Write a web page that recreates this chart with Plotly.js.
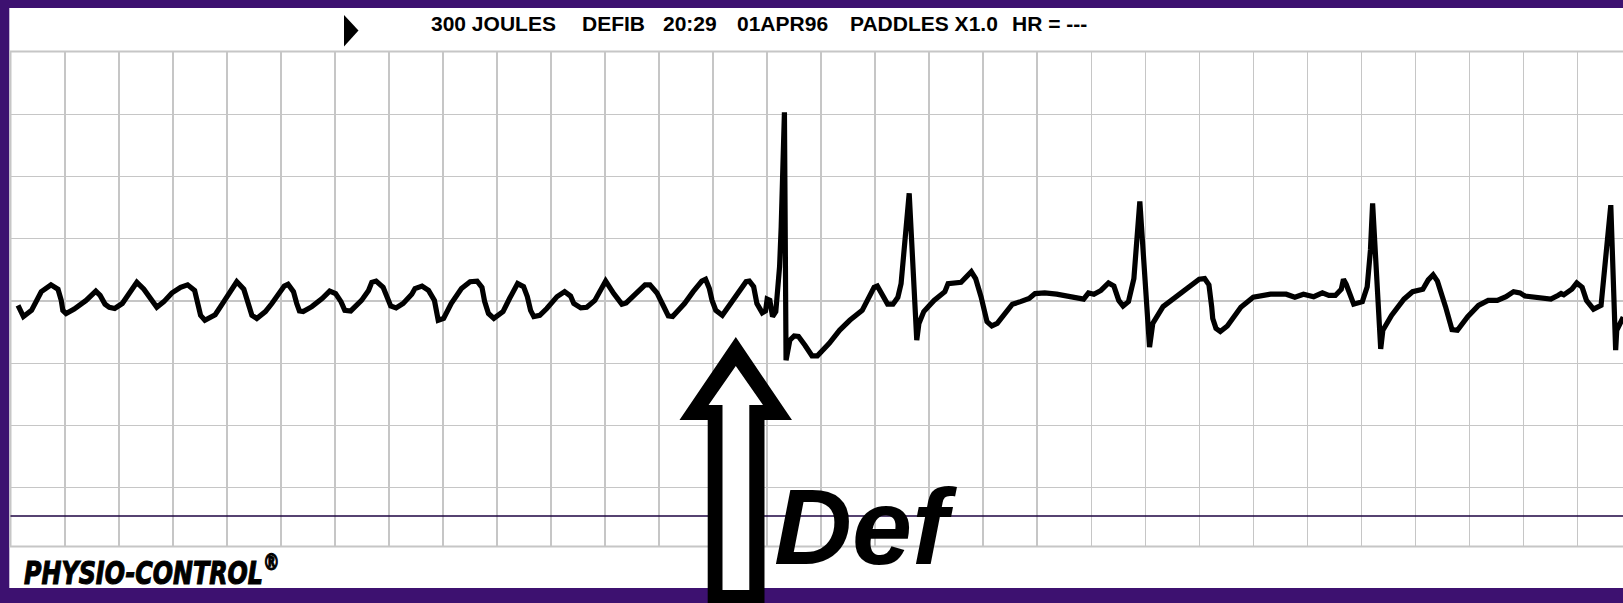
<!DOCTYPE html>
<html>
<head>
<meta charset="utf-8">
<script src="https://cdn.plot.ly/plotly-3.0.1.min.js"></script>
<style>
  html, body { margin: 0; padding: 0; background: #3d1170; }
  #strip { width: 1623px; height: 603px; }
</style>
</head>
<body>
<div id="strip"></div>
<script>
// ECG strip. Units are big grid boxes:
// t = boxes from the left edge of the grid, v = boxes above the baseline gridline
const t = [0.13, 0.23, 0.38, 0.56, 0.74, 0.87, 0.93, 0.96, 1.02, 1.17, 1.39, 1.57, 1.65, 1.74, 1.82, 1.92,
    2.06, 2.21, 2.33, 2.46, 2.60, 2.70, 2.83, 2.98, 3.14, 3.27, 3.40, 3.46, 3.51, 3.59, 3.78, 3.94,
    4.08, 4.18, 4.31, 4.39, 4.46, 4.55, 4.71, 4.83, 4.97, 5.06, 5.13, 5.23, 5.29, 5.34, 5.41, 5.57,
    5.76, 5.90, 6.01, 6.11, 6.18, 6.29, 6.49, 6.62, 6.68, 6.76, 6.89, 6.97, 7.03, 7.13, 7.26, 7.42,
    7.48, 7.61, 7.73, 7.84, 7.88, 7.91, 8.01, 8.15, 8.34, 8.50, 8.63, 8.72, 8.77, 8.84, 8.94, 9.11,
    9.23, 9.38, 9.49, 9.56, 9.62, 9.68, 9.79, 9.92, 10.11, 10.25, 10.36, 10.42, 10.55, 10.66, 10.81, 10.93,
    11.01, 11.16, 11.31, 11.39, 11.58, 11.74, 11.83, 11.96, 12.08, 12.17, 12.25, 12.47, 12.63, 12.79, 12.86, 12.93,
    12.98, 13.05, 13.17, 13.35, 13.48, 13.61, 13.67, 13.75, 13.81, 13.91, 13.97, 14.00, 14.05, 14.10, 14.16, 14.19,
    14.23, 14.26, 14.32, 14.35, 14.42, 14.50, 14.58, 14.70, 14.83, 14.93, 15.15, 15.34, 15.53, 15.76, 15.88, 15.98,
    16.04, 16.14, 16.23, 16.33, 16.42, 16.48, 16.54, 16.63, 16.77, 16.81, 16.90, 17.09, 17.29, 17.35, 17.59, 17.78,
    17.86, 17.96, 18.07, 18.16, 18.26, 18.40, 18.54, 18.69, 18.85, 18.96, 19.14, 19.36, 19.79, 19.86, 19.95, 20.05,
    20.18, 20.32, 20.42, 20.51, 20.59, 20.69, 20.79, 20.85, 20.90, 21.08, 21.14, 21.33, 21.52, 21.78, 22.00, 22.10,
    22.18, 22.23, 22.25, 22.31, 22.39, 22.52, 22.77, 23.00, 23.32, 23.61, 23.77, 23.93, 24.12, 24.28, 24.40, 24.52,
    24.63, 24.67, 24.72, 24.86, 25.02, 25.11, 25.17, 25.21, 25.36, 25.40, 25.56, 25.79, 25.95, 26.14, 26.24, 26.33,
    26.41, 26.56, 26.68, 26.78, 26.97, 27.17, 27.35, 27.52, 27.68, 27.82, 27.94, 28.03, 28.32, 28.51, 28.64, 28.70,
    28.75, 28.90, 28.99, 29.09, 29.17, 29.30, 29.44, 29.49, 29.57, 29.62, 29.71, 29.73, 29.85];

const v = [-0.07, -0.25, -0.15, 0.15, 0.26, 0.19, 0.01, -0.15, -0.20, -0.13, 0.01, 0.16, 0.09, -0.05, -0.10, -0.12,
    -0.04, 0.15, 0.30, 0.19, 0.01, -0.10, -0.01, 0.13, 0.22, 0.26, 0.17, -0.01, -0.23, -0.31, -0.22, -0.01,
    0.19, 0.31, 0.19, -0.04, -0.23, -0.28, -0.17, -0.04, 0.15, 0.24, 0.27, 0.15, -0.04, -0.16, -0.17, -0.09,
    0.04, 0.16, 0.12, -0.01, -0.15, -0.16, 0.01, 0.17, 0.30, 0.32, 0.22, 0.04, -0.08, -0.11, -0.04, 0.11,
    0.20, 0.24, 0.17, 0.01, -0.15, -0.31, -0.28, -0.04, 0.20, 0.31, 0.32, 0.22, -0.01, -0.20, -0.28, -0.17,
    0.04, 0.28, 0.23, 0.07, -0.15, -0.25, -0.23, -0.12, 0.07, 0.15, 0.08, -0.04, -0.11, -0.10, 0.01, 0.22,
    0.32, 0.12, -0.05, -0.03, 0.12, 0.26, 0.26, 0.13, -0.08, -0.24, -0.25, -0.04, 0.15, 0.32, 0.35, 0.20,
    0.01, -0.15, -0.23, -0.01, 0.17, 0.31, 0.32, 0.23, -0.04, -0.19, -0.16, 0.03, 0.01, -0.25, -0.17, 0.07,
    0.55, 1.19, 3.03, -0.95, -0.63, -0.56, -0.57, -0.71, -0.88, -0.88, -0.68, -0.47, -0.31, -0.15, 0.04, 0.22,
    0.24, 0.09, -0.05, -0.05, 0.06, 0.28, 0.87, 1.73, -0.63, -0.36, -0.17, 0.01, 0.15, 0.28, 0.30, 0.47,
    0.36, 0.07, -0.33, -0.40, -0.36, -0.20, -0.05, -0.01, 0.04, 0.12, 0.13, 0.11, 0.03, 0.03, 0.13, 0.11,
    0.17, 0.29, 0.24, 0.01, -0.08, -0.01, 0.36, 0.98, 1.60, -0.74, -0.36, -0.09, 0.04, 0.20, 0.35, 0.36,
    0.26, -0.09, -0.28, -0.44, -0.49, -0.40, -0.10, 0.06, 0.11, 0.11, 0.06, 0.11, 0.07, 0.13, 0.09, 0.09,
    0.19, 0.35, 0.27, -0.05, -0.01, 0.23, 0.82, 1.57, -0.77, -0.47, -0.23, 0.03, 0.15, 0.19, 0.34, 0.42,
    0.32, -0.09, -0.46, -0.47, -0.25, -0.07, 0.01, 0.01, 0.07, 0.15, 0.13, 0.08, 0.06, 0.03, 0.09, 0.12,
    0.10, 0.19, 0.29, 0.22, 0.01, -0.13, -0.07, 0.36, 1.03, 1.54, -0.79, -0.47, -0.26];

const headerText = ['300 JOULES', 'DEFIB', '20:29', '01APR96', 'PADDLES X1.0', 'HR = ---'];
const logoText = 'PHYSIO-CONTROL<sup>®</sup>';
const markText = 'Def';

// figure geometry (pixels) -> paper coords of the plot area (the grid)
const L = 11, T = 52, W = 1612, H = 494;
function px(x) { return (x - L) / W; }
function py(y) { return (T + H - y) / H; }
function path(pts) {
    return 'M ' + pts.map(p => px(p[0]).toFixed(5) + ',' + py(p[1]).toFixed(5)).join(' L ') + ' Z';
}

const headerLeft = [428.5, 579.5, 660.5, 734.5, 847.5, 1010];
const headerFont = {family: 'Liberation Sans, Arial, sans-serif', size: 21, weight: 'bold', color: '#000'};

let annotations = headerText.map((s, i) => ({
    xref: 'paper', yref: 'paper', x: px(headerLeft[i]), y: py(23),
    xanchor: 'left', yanchor: 'middle', showarrow: false, text: s, font: headerFont
}));

// logo: heavy condensed face, squeezed a bit more below
annotations.push({
    xref: 'paper', yref: 'paper', x: px(22), y: py(570.5), xanchor: 'left', yanchor: 'middle',
    showarrow: false, text: logoText,
    font: {family: 'DejaVu Sans Condensed, DejaVu Sans, sans-serif', size: 32.5,
           weight: 'bold', style: 'italic', color: '#000'}
});

annotations.push({
    xref: 'paper', yref: 'paper', x: px(772), y: py(526.5), xanchor: 'left', yanchor: 'middle',
    showarrow: false, text: markText,
    font: {family: 'Liberation Sans, Arial, sans-serif', size: 108, weight: 'bold', style: 'italic', color: '#000'}
});

const gridGray = '#c6c6c6';

const shapes = [
    // white paper of the strip
    {type: 'rect', layer: 'below', xref: 'paper', yref: 'paper', x0: px(9.3), x1: px(1623), y0: py(588), y1: py(8),
     fillcolor: '#ffffff', line: {width: 0}},
    // header / footer rules and left edge of the grid
    {type: 'line', xref: 'paper', yref: 'paper', x0: px(9.3), x1: px(1623), y0: py(51.5), y1: py(51.5),
     line: {color: gridGray, width: 2}},
    {type: 'line', xref: 'paper', yref: 'paper', x0: px(9.3), x1: px(1623), y0: py(546.5), y1: py(546.5),
     line: {color: gridGray, width: 2}},
    {type: 'line', xref: 'paper', yref: 'paper', x0: px(10.5), x1: px(10.5), y0: py(51.5), y1: py(546.5),
     line: {color: gridGray, width: 2}},
    // thin dark rule near the bottom of the grid
    {type: 'line', xref: 'paper', yref: 'paper', x0: px(10.5), x1: px(1623), y0: py(516), y1: py(516),
     line: {color: '#1e0542', width: 1.3}},
    // small marker triangle in the header
    {type: 'path', xref: 'paper', yref: 'paper', path: path([[344, 15], [358.5, 30.5], [344, 46.5]]),
     fillcolor: '#000', line: {width: 0}},
    // outlined "shock" arrow
    {type: 'path', xref: 'paper', yref: 'paper',
     path: path([[735.8, 337], [679.5, 420], [707.7, 420], [707.7, 606], [764.5, 606], [764.5, 420], [792, 420]]),
     fillcolor: '#000', line: {width: 0}},
    {type: 'path', xref: 'paper', yref: 'paper',
     path: path([[735.8, 366], [708.6, 405], [722.5, 405], [722.5, 590], [749.3, 590], [749.3, 405], [763, 405]]),
     fillcolor: '#fff', line: {width: 0}}
];

const ecg = {
    type: 'scatter',
    mode: 'lines',
    x: t,
    y: v,
    line: {color: '#000', width: 5.2},
    hoverinfo: 'skip'
};

const layout = {
    width: 1623,
    height: 603,
    margin: {l: L, r: 0, t: T, b: 603 - T - H},
    paper_bgcolor: '#3d1170',
    plot_bgcolor: '#ffffff',
    showlegend: false,
    xaxis: {
        range: [0, 29.846], tick0: 0, dtick: 1, showgrid: true, gridcolor: gridGray, gridwidth: 1.4,
        zeroline: false, showticklabels: false, ticks: '', showline: false, fixedrange: true
    },
    yaxis: {
        range: [-3.935, 4], tick0: 0, dtick: 1, showgrid: true, gridcolor: gridGray, gridwidth: 1.4,
        zeroline: false, showticklabels: false, ticks: '', showline: false, fixedrange: true
    },
    shapes: shapes,
    annotations: annotations
};

Plotly.newPlot('strip', [ecg], layout, {displayModeBar: false, staticPlot: true}).then(function () {
    // narrow and thicken the logo to match the printer's black condensed lettering
    const logo = document.querySelector('g.annotation[data-index="6"] text');
    if (logo) {
        logo.style.transformBox = 'fill-box';
        logo.style.transformOrigin = '0 50%';
        logo.style.transform = 'scaleX(0.815)';
        logo.style.stroke = '#000';
        logo.style.strokeWidth = '1.1px';
    }
});
</script>
</body>
</html>
